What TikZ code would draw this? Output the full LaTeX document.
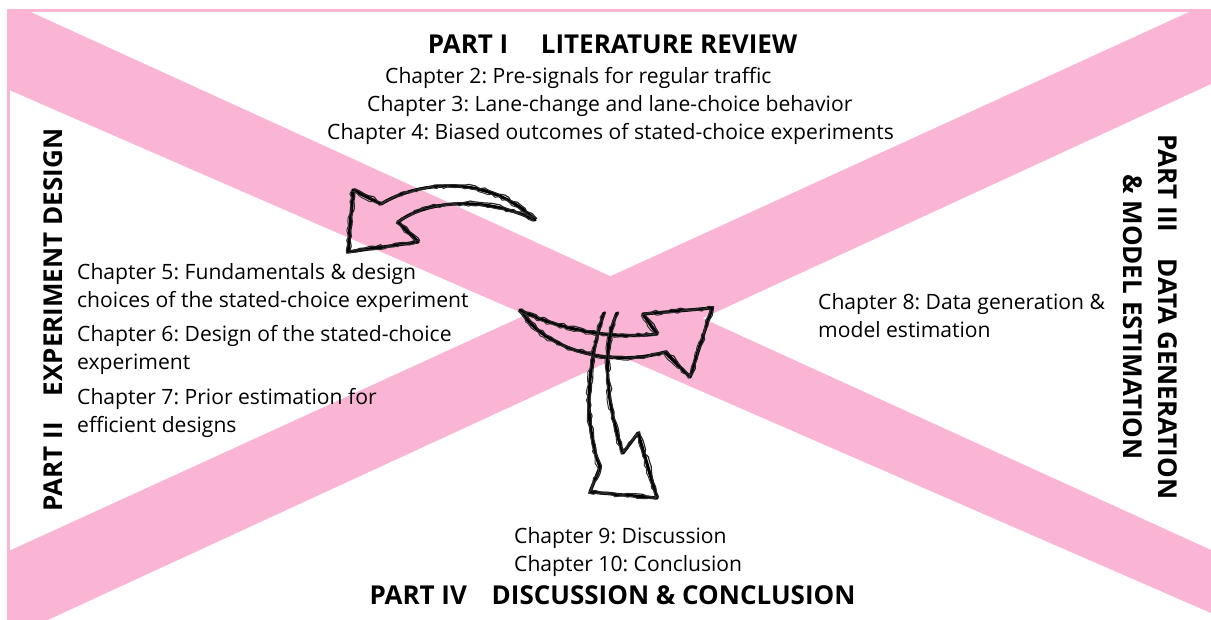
\documentclass[tikz,border=0pt]{standalone}
\usepackage{fontspec}
\setmainfont{Open Sans}
\frenchspacing
\usetikzlibrary{decorations.pathmorphing}
\definecolor{xpink}{RGB}{250,181,212}
\tikzset{
  chap/.style={font=\fontsize{21.1}{28}\selectfont, inner sep=0pt, anchor=base west},
  part/.style={font=\fontsize{26}{35}\selectfont\bfseries, inner sep=0pt, align=center},
  skA/.style={draw=black, line width=3.2pt, line join=round, line cap=round},
  skB/.style={draw=black!85, line width=1.2pt, line join=round, decorate, decoration={random steps, segment length=5pt, amplitude=1.5pt}, xshift=1.6pt, yshift=1.3pt},
  skC/.style={draw=black!80, line width=1pt, line join=round, decorate, decoration={random steps, segment length=4pt, amplitude=1.3pt}, xshift=-1.7pt, yshift=-1.2pt},
}
\newcommand\sketchit[1]{\draw[skA] #1; \draw[skB] #1; \draw[skC] #1;}
\begin{document}
\begin{tikzpicture}[x=1pt,y=-1pt]
\useasboundingbox (0,0) rectangle (1211,619);
% pink X
\begin{scope}
\clip (8.5,10) rectangle (1211,619);
\fill[xpink] (0,-2) -- (1211,550) -- (1211,613) -- (0,86) -- cycle;
\fill[xpink] (0,555) -- (1211,2) -- (1211,84) -- (0,642) -- cycle;
\end{scope}
\draw[xpink, line width=3pt] (8.5,625) -- (8.5,10) -- (1215,10);

% arrows
\sketchit{(353,190) -- (381,204) .. controls (420,180) and (490,175) .. (535,220) .. controls (490,198) and (430,198) .. (398,222) -- (418,242) -- (348,252) -- cycle}
\sketchit{(520,310) .. controls (555,328) and (610,340) .. (657,334) -- (643,314) -- (712,308) -- (690,377) -- (665,352) .. controls (610,368) and (545,350) .. (520,310)}
\sketchit{(604,313) .. controls (588,360) and (582,420) .. (600,467) -- (590,492) -- (657,498) -- (638,433) -- (623,453) .. controls (608,410) and (600,350) .. (617,313)}

% part headings
\node[part] (p1) at (612.5,44) {PART I\hspace{1.25em}LITERATURE REVIEW};
\node[part] (p4) at (612.5,595) {PART IV\hspace{0.95em}DISCUSSION \& CONCLUSION};
\node[part, rotate=90] (p2) at (53,320) {PART II\hspace{1em}EXPERIMENT DESIGN};
\node[part, rotate=-90] (p3) at (1150,317) {PART III\hspace{1em}DATA GENERATION\\\& MODEL ESTIMATION};

% chapters
\node[chap] (c2) at (385,83) {Chapter 2: Pre-signals for regular traffic};
\node[chap] (c3) at (367,111) {Chapter 3: Lane-change and lane-choice behavior};
\node[chap] (c4) at (327,139) {Chapter 4: Biased outcomes of stated-choice experiments};
\node[chap] (c5a) at (77,279) {Chapter 5: Fundamentals \& design};
\node[chap] (c5b) at (77,307) {choices of the stated-choice experiment};
\node[chap] (c6a) at (77,341) {Chapter 6: Design of the stated-choice};
\node[chap] (c6b) at (77,369) {experiment};
\node[chap] (c7a) at (77,404) {Chapter 7: Prior estimation for};
\node[chap] (c7b) at (77,432) {efficient designs};
\node[chap] (c8a) at (818,309) {Chapter 8: Data generation \&};
\node[chap] (c8b) at (818,337) {model estimation};
\node[chap] (c9) at (514,543) {Chapter 9: Discussion};
\node[chap] (c10) at (514,571) {Chapter 10: Conclusion};
\end{tikzpicture}
\end{document}
